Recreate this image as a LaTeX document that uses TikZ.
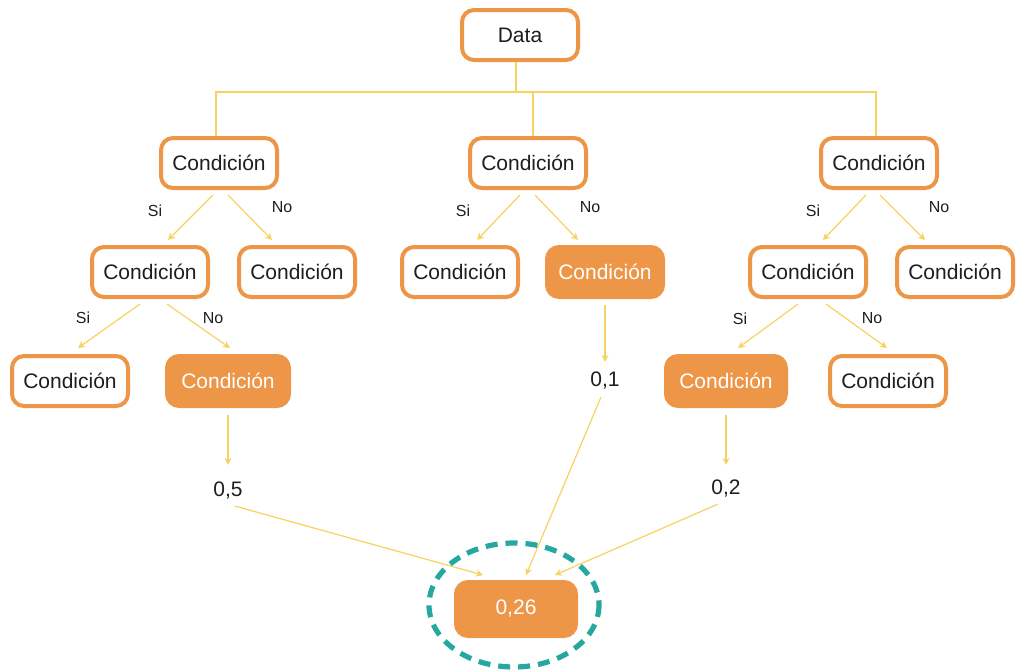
\documentclass[tikz,border=0pt]{standalone}
\usepackage{fontspec}
\setmainfont{Liberation Sans}
\usetikzlibrary{arrows.meta,shadows}
\definecolor{orng}{RGB}{238,150,72}
\definecolor{ylw}{RGB}{246,210,95}
\definecolor{teal2}{RGB}{38,168,160}
\definecolor{txt}{RGB}{30,30,30}
\begin{document}
\begin{tikzpicture}[x=0.5pt,y=-0.5pt,
  box/.style={draw=orng,line width=2pt,rounded corners=6pt,fill=white,
    minimum width=58pt,minimum height=25pt,inner sep=0pt,
    font=\fontsize{10.5}{12}\selectfont,text=txt,
    drop shadow={opacity=0.12,shadow xshift=0.4pt,shadow yshift=-0.8pt}},
  hbox/.style={box,fill=orng,text=white},
  lbl/.style={font=\fontsize{8}{9}\selectfont,text=txt,inner sep=0pt},
  val/.style={font=\fontsize{10.5}{12}\selectfont,text=txt,inner sep=1pt},
  ln/.style={draw=ylw,line width=0.6pt},
  arr/.style={ln,-{Stealth[length=3.5pt,width=3.5pt]}}]
\useasboundingbox (0,0) rectangle (1024,671);
% nodes
\node[box] (data) at (520,35) {Data};
\node[box] (a) at (219,163) {Condición};
\node[box] (b) at (528,163) {Condición};
\node[box] (c) at (879,163) {Condición};
\node[box] (a1) at (150,272) {Condición};
\node[box] (a2) at (297,272) {Condición};
\node[box] (b1) at (460,272) {Condición};
\node[hbox] (b2) at (605,272) {Condición};
\node[box] (c1) at (808,272) {Condición};
\node[box] (c2) at (955,272) {Condición};
\node[box] (a11) at (70,381) {Condición};
\node[hbox,minimum width=61pt] (a12) at (228,381) {Condición};
\node[hbox,minimum width=60pt] (c11) at (726,381) {Condición};
\node[box] (c12) at (888,381) {Condición};
\node[val] (v1) at (228,491) {0,5};
\node[val] (v2) at (605,381) {0,1};
\node[val] (v3) at (726,489) {0,2};
\node[hbox,minimum width=60pt,minimum height=27pt] (res) at (516,609) {0,26};
% top connectors
\draw[ln] ([shift={(-4,0)}]data.south) -- ++(0,31);
\draw[ln] ([shift={(-3,0)}]a.north) -- ++(0,-44) -| ([shift={(-3,0)}]c.north);
\draw[ln] ([shift={(5,0)}]b.north) -- ++(0,-44);
% level 1 arrows
\draw[arr] ([shift={(-6,5)}]a.south) -- ([shift={(18,-5)}]a1.north);
\draw[arr] ([shift={(9,5)}]a.south) -- ([shift={(-25,-5)}]a2.north);
\draw[arr] ([shift={(-8,5)}]b.south) -- ([shift={(17,-5)}]b1.north);
\draw[arr] ([shift={(7,5)}]b.south) -- ([shift={(-27,-5)}]b2.north);
\draw[arr] ([shift={(-13,5)}]c.south) -- ([shift={(15,-5)}]c1.north);
\draw[arr] ([shift={(1,5)}]c.south) -- ([shift={(-30,-5)}]c2.north);
% level 2 arrows
\draw[arr] ([shift={(-10,5)}]a1.south) -- ([shift={(8,-6)}]a11.north);
\draw[arr] ([shift={(17,5)}]a1.south) -- ([shift={(2,-6)}]a12.north);
\draw[arr] ([shift={(-10,5)}]c1.south) -- ([shift={(12,-6)}]c11.north);
\draw[arr] ([shift={(18,5)}]c1.south) -- ([shift={(-1,-6)}]c12.north);
% labels
\node[lbl] at (155,211) {Si};
\node[lbl] at (282,207) {No};
\node[lbl] at (463,211) {Si};
\node[lbl] at (590,207) {No};
\node[lbl] at (813,211) {Si};
\node[lbl] at (939,207) {No};
\node[lbl] at (83,318) {Si};
\node[lbl] at (213,318) {No};
\node[lbl] at (740,319) {Si};
\node[lbl] at (872,318) {No};
% value arrows
\draw[arr] ([shift={(0,7)}]a12.south) -- ([shift={(0,-15)}]v1.north);
\draw[arr] ([shift={(0,6)}]b2.south) -- ([shift={(0,-8)}]v2.north);
\draw[arr] ([shift={(0,7)}]c11.south) -- ([shift={(0,-13)}]v3.north);
\draw[arr] ([shift={(7,4)}]v1.south) -- ([shift={(-33,-5)}]res.north);
\draw[arr] ([shift={(-4,5)}]v2.south) -- ([shift={(10,-5)}]res.north);
\draw[arr] ([shift={(-8,4)}]v3.south) -- ([shift={(39,-5)}]res.north);
% dashed ellipse
\draw[teal2,line width=2.6pt,dash pattern=on 6pt off 4pt] ([shift={(-2,-4)}]res.center) ellipse [x radius=85,y radius=62];
\end{tikzpicture}
\end{document}
